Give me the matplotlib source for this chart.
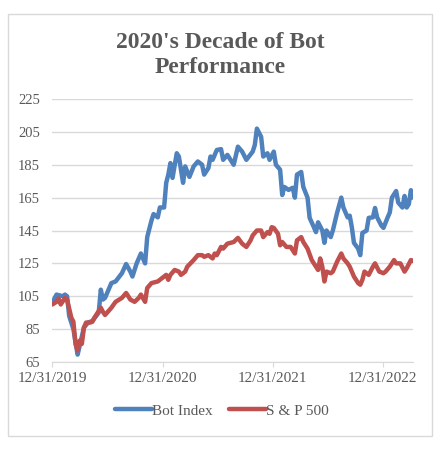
import numpy as np
import pandas as pd
import matplotlib
matplotlib.use("Agg")
import matplotlib.pyplot as plt
import matplotlib.dates as mdates
from matplotlib.patches import Rectangle

# weeks after 12/31/2019 and index levels (start = 100)
bot_weeks = [0, 2, 5, 6, 7, 8, 10, 12, 13, 15, 17, 19, 22, 23, 24, 25, 28, 30, 33, 35,
             37, 38, 40, 42, 44, 45, 47, 48, 50, 51, 53, 54, 55, 56, 57, 59, 60, 61, 62, 63,
             65, 67, 69, 71, 72, 74, 75, 76, 78, 80, 81, 83, 86, 88, 90, 92, 95, 96, 97, 99,
             100, 102, 103, 105, 106, 108, 109, 110, 112, 114, 115, 116, 118, 119, 121, 122,
             124, 125, 126, 128, 129, 130, 132, 133, 135, 137, 138, 140, 141, 142, 143, 145,
             146, 147, 149, 150, 152, 153, 154, 156, 157, 159, 160, 161, 163, 164, 166, 167,
             168, 169, 170, 171]
bot_vals = [101, 106, 105, 106, 105, 93, 85, 69.5, 75, 86, 89, 90, 95, 109, 103, 104, 113, 114, 119, 124.6,
            120, 117, 125, 131, 125, 141, 151, 155, 153, 159, 159, 174, 179, 186, 177, 192, 190, 182, 174, 184,
            177.6, 184, 187, 185, 179, 183, 190, 188, 194, 194.5, 188, 191, 185, 196, 193, 188, 193, 197, 207, 202,
            190, 192, 188, 193, 185, 182, 166.6, 171.5, 169.7, 171, 165, 179, 180.6, 171.5, 165, 152.7,
            147, 144, 150, 145, 137.5, 145, 141, 145, 155.7, 165, 159, 153, 154, 147, 137.5, 134,
            130, 143.5, 145, 152.7, 153, 158.7, 153, 148, 146.6, 153, 156, 165, 169, 162, 159, 166,
            159, 161, 169.5, 165]

spx_weeks = [0, 2, 3, 4, 6, 7, 9, 10, 11, 12, 13, 14, 15, 16, 18, 19, 20, 23, 24, 25,
             28, 30, 33, 35, 37, 39, 41, 42, 44, 45, 47, 50, 52, 54, 55, 56, 58, 60, 61, 63,
             64, 67, 69, 71, 72, 74, 76, 77, 78, 80, 81, 83, 86, 88, 90, 92, 94, 95, 97, 99,
             100, 102, 103, 104, 105, 107, 108, 109, 111, 113, 115, 116, 118, 119, 121, 123,
             124, 126, 127, 128, 129, 130, 132, 133, 135, 137, 138, 140, 141, 143, 145, 146,
             147, 148, 150, 152, 153, 155, 157, 158, 160, 162, 163, 165, 167, 168, 170, 171]
spx_vals = [100, 101.6, 103.6, 100, 104, 103, 92, 89.5, 76, 72, 78, 76, 86, 89, 89, 89.5, 92, 98, 95.5, 93.6,
            98, 101.6, 104, 107, 103, 101.6, 104, 106, 101.6, 110, 113, 114, 116, 118, 115, 118, 121, 120, 118, 120,
            123, 127, 130, 130, 129, 130, 128, 131, 130, 135, 134, 137, 138, 140.5, 137, 135, 139, 142, 145, 145,
            141, 144, 143, 147, 146.6, 143, 136, 138, 135, 135, 131, 139, 141, 138, 134, 127,
            125, 121, 128, 123, 114, 120, 119, 120, 126, 131, 128, 125, 123, 117, 113, 112,
            115, 120, 118, 123, 125, 120, 119, 120, 123, 127, 125, 125, 120, 122, 127, 126.6]

year_ticks = ["2019-12-31", "2020-12-31", "2021-12-31", "2022-12-31"]
start = pd.Timestamp("2019-12-31")

bot_dates = start + pd.to_timedelta(np.array(bot_weeks) * 7, unit="D")
spx_dates = start + pd.to_timedelta(np.array(spx_weeks) * 7, unit="D")

plt.rcParams['font.family'] = ['Liberation Serif', 'DejaVu Serif']
grey = '#595959'
light = '#D9D9D9'

fig = plt.figure(figsize=(4.37, 4.51), dpi=100)
fig.patches.append(Rectangle((8 / 437, 1 - 436 / 451), 424 / 437, 422 / 451,
                             transform=fig.transFigure, fill=False,
                             edgecolor=light, linewidth=1))

ax = fig.add_axes([52.3 / 437, 1 - 362 / 451, (413 - 52.3) / 437, (362 - 99) / 451])
ax.plot(bot_dates, bot_vals, color='#4F81BD', linewidth=3.2, label='Bot Index',
        solid_joinstyle='round', solid_capstyle='round')
ax.plot(spx_dates, spx_vals, color='#C0504D', linewidth=3.2, label='S & P 500',
        solid_joinstyle='round', solid_capstyle='round')

ax.set_ylim(65, 225)
ax.set_yticks(np.arange(65, 226, 20))
ax.set_xlim(start, bot_dates[-1])
ax.set_xticks(pd.to_datetime(year_ticks))
ax.xaxis.set_major_formatter(mdates.DateFormatter('%m/%d/%Y'))
ax.grid(axis='y', color=light, linewidth=1)
ax.set_axisbelow(True)
for s in ['top', 'right', 'left']:
    ax.spines[s].set_visible(False)
ax.spines['bottom'].set_color(light)
ax.tick_params(axis='y', length=0, pad=9, labelsize=10.5, labelcolor=grey)
ax.tick_params(axis='x', length=3.5, color=light, pad=4, labelsize=11, labelcolor=grey)

fig.text(220 / 437, 1 - 48 / 451, "2020's Decade of Bot", ha='center', va='baseline',
         fontsize=17, fontweight='bold', color=grey)
fig.text(220 / 437, 1 - 73 / 451, "Performance", ha='center', va='baseline',
         fontsize=17, fontweight='bold', color=grey)

fig.legend(loc='center', bbox_to_anchor=(222 / 437, 1 - 411 / 451), ncol=2, frameon=False,
           fontsize=11, handlelength=2.4, handletextpad=0.0, columnspacing=1.1,
           labelcolor=grey)

plt.savefig("out.png", dpi=100, facecolor='w')
